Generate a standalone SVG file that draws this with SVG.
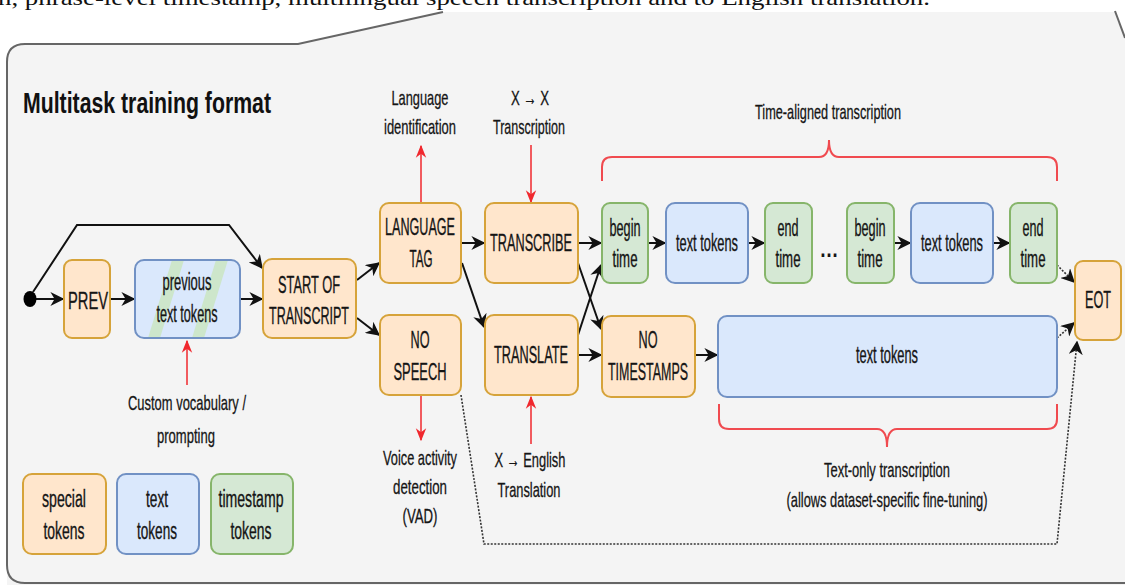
<svg xmlns="http://www.w3.org/2000/svg" width="1125" height="585" viewBox="0 0 1125 585">
<style>
.o{fill:#ffe6cc;stroke:#d6a33a;stroke-width:2}
.b{fill:#dae8fc;stroke:#7191c4;stroke-width:2}
.g{fill:#d5e8d4;stroke:#86b56a;stroke-width:2}
.t{font-family:"Liberation Sans",Arial,sans-serif;font-size:23px;fill:#151515;stroke:#151515;stroke-width:0.35;text-anchor:middle}
.a{font-family:"Liberation Sans",Arial,sans-serif;font-size:21px;fill:#151515;stroke:#151515;stroke-width:0.3;text-anchor:middle}
.c{fill:none;stroke:#111;stroke-width:2}
.d{fill:none;stroke:#333;stroke-width:1.6;stroke-dasharray:2 1.5}
.r{fill:none;stroke:#f0282e;stroke-width:1.5}
.br{fill:none;stroke:#f04a4f;stroke-width:2}
</style>
<defs>
<marker id="ak" viewBox="0 0 10 10" refX="9" refY="5" markerWidth="14" markerHeight="14" orient="auto" markerUnits="userSpaceOnUse">
<path d="M0,0 L10,5 L0,10 L3,5 Z" fill="#111"/>
</marker>
<marker id="rh" viewBox="0 0 10 10" refX="9" refY="5" markerWidth="13" markerHeight="13" orient="auto" markerUnits="userSpaceOnUse">
<path d="M0,1 L10,5 L0,9 L3,5 Z" fill="#f0282e"/>
</marker>
<clipPath id="pc"><rect x="135" y="260" width="105" height="78" rx="9"/></clipPath>
</defs>
<rect width="1125" height="585" fill="#ffffff"/>
<path d="M7,585 L7,62 Q7,44 25,44 L298,44 L443,12 L1115,12 L1125,38 L1125,585 Z" fill="#f4f4f4"/>
<path d="M1125,583 L25,583 Q7,583 7,565 L7,62 Q7,44 25,44 L298,44 L443,12" fill="none" stroke="#666" stroke-width="2"/>
<path d="M1115,11 L1125,38" fill="none" stroke="#666" stroke-width="2"/>
<text x="-2" y="5" font-family="Liberation Serif,'Times New Roman',serif" font-size="22" fill="#111" textLength="932" lengthAdjust="spacingAndGlyphs">n, phrase-level timestamp, multilingual speech transcription and to English translation.</text>
<text x="23" y="113" font-family="Liberation Sans,Arial,sans-serif" font-size="30" font-weight="bold" fill="#111" textLength="248" lengthAdjust="spacingAndGlyphs">Multitask training format</text>

<g id="connectors">
<line class="c" x1="36" y1="299" x2="63" y2="299" marker-end="url(#ak)"/>
<path class="c" d="M33,292 L77,225 L229,225 L262,268" marker-end="url(#ak)"/>
<line class="c" x1="110" y1="299" x2="134" y2="299" marker-end="url(#ak)"/>
<line class="c" x1="240" y1="299" x2="262" y2="299" marker-end="url(#ak)"/>
<line class="c" x1="357" y1="280" x2="379" y2="263" marker-end="url(#ak)"/>
<line class="c" x1="357" y1="318" x2="379" y2="335" marker-end="url(#ak)"/>
<line class="c" x1="461" y1="243" x2="484" y2="243" marker-end="url(#ak)"/>
<line class="c" x1="462" y1="263" x2="484" y2="327" marker-end="url(#ak)"/>
<line class="c" x1="578" y1="243" x2="601" y2="243" marker-end="url(#ak)"/>
<line class="c" x1="578" y1="263" x2="601" y2="329" marker-end="url(#ak)"/>
<line class="c" x1="578" y1="335" x2="601" y2="265" marker-end="url(#ak)"/>
<line class="c" x1="578" y1="355" x2="601" y2="355" marker-end="url(#ak)"/>
<line class="c" x1="648" y1="243" x2="665" y2="243" marker-end="url(#ak)"/>
<line class="c" x1="748" y1="243" x2="764" y2="243" marker-end="url(#ak)"/>
<line class="c" x1="894" y1="243" x2="910" y2="243" marker-end="url(#ak)"/>
<line class="c" x1="993" y1="243" x2="1009" y2="243" marker-end="url(#ak)"/>
<line class="c" x1="695" y1="355" x2="717" y2="355" marker-end="url(#ak)"/>
<path class="d" d="M1057,265 L1074,282" marker-end="url(#ak)"/>
<path class="d" d="M1057,338 L1074,323" marker-end="url(#ak)"/>
<path class="d" d="M461,395 L484,544 L1057,544 L1077,342" marker-end="url(#ak)"/>
<line class="r" x1="421" y1="203" x2="421" y2="146" marker-end="url(#rh)"/>
<line class="r" x1="531" y1="145" x2="531" y2="202" marker-end="url(#rh)"/>
<line class="r" x1="421" y1="396" x2="421" y2="440" marker-end="url(#rh)"/>
<line class="r" x1="531" y1="444" x2="531" y2="397" marker-end="url(#rh)"/>
<line class="r" x1="187" y1="385" x2="187" y2="341" marker-end="url(#rh)"/>
<path class="br" d="M602,181 L602,167 Q602,157 612,157 L819,157 Q829,157 829,140 Q829,157 839,157 L1047,157 Q1057,157 1057,167 L1057,181"/>
<path class="br" d="M719,404 L719,419 Q719,429 729,429 L877,429 Q887,429 887,447 Q887,429 897,429 L1047,429 Q1057,429 1057,419 L1057,404"/>
</g>

<g id="start"><ellipse cx="30" cy="299" rx="6.5" ry="8" fill="#000"/></g>
<g id="prev"><rect class="o" x="64" y="260" width="46" height="78" rx="8"/><text class="t" x="88" y="309" textLength="40" lengthAdjust="spacingAndGlyphs">PREV</text></g>
<g id="previous-text">
<rect x="135" y="260" width="105" height="78" rx="9" fill="#dae8fc"/>
<g clip-path="url(#pc)" fill="#cbe6c6" opacity="0.9">
<polygon points="148,338 160,338 184,260 172,260"/>
<polygon points="192,338 204,338 228,260 216,260"/>
</g>
<rect x="135" y="260" width="105" height="78" rx="9" fill="none" stroke="#7191c4" stroke-width="2"/>
<text class="t" x="187" y="290" textLength="49" lengthAdjust="spacingAndGlyphs">previous</text>
<text class="t" x="187" y="322" textLength="61" lengthAdjust="spacingAndGlyphs">text tokens</text>
</g>
<g id="sot"><rect class="o" x="263" y="259" width="93" height="79" rx="9"/><text class="t" x="309" y="293" textLength="62" lengthAdjust="spacingAndGlyphs">START OF</text><text class="t" x="309" y="324" textLength="80" lengthAdjust="spacingAndGlyphs">TRANSCRIPT</text></g>
<g id="lang"><rect class="o" x="380" y="203" width="81" height="80" rx="9"/><text class="t" x="420" y="235" textLength="70" lengthAdjust="spacingAndGlyphs">LANGUAGE</text><text class="t" x="421" y="267" textLength="23" lengthAdjust="spacingAndGlyphs">TAG</text></g>
<g id="nospeech"><rect class="o" x="380" y="315" width="81" height="80" rx="9"/><text class="t" x="420" y="348" textLength="19" lengthAdjust="spacingAndGlyphs">NO</text><text class="t" x="420" y="380" textLength="53" lengthAdjust="spacingAndGlyphs">SPEECH</text></g>
<g id="transcribe"><rect class="o" x="485" y="203" width="93" height="80" rx="9"/><text class="t" x="531" y="251" textLength="82" lengthAdjust="spacingAndGlyphs">TRANSCRIBE</text></g>
<g id="translate"><rect class="o" x="485" y="315" width="93" height="80" rx="9"/><text class="t" x="531" y="363" textLength="74" lengthAdjust="spacingAndGlyphs">TRANSLATE</text></g>
<g id="begin1"><rect class="g" x="602" y="203" width="46" height="80" rx="8"/><text class="t" x="625" y="236" textLength="31" lengthAdjust="spacingAndGlyphs">begin</text><text class="t" x="625" y="267" textLength="25" lengthAdjust="spacingAndGlyphs">time</text></g>
<g id="text1"><rect class="b" x="666" y="203" width="82" height="80" rx="9"/><text class="t" x="707" y="251" textLength="62" lengthAdjust="spacingAndGlyphs">text tokens</text></g>
<g id="end1"><rect class="g" x="765" y="203" width="47" height="80" rx="8"/><text class="t" x="788" y="236" textLength="21" lengthAdjust="spacingAndGlyphs">end</text><text class="t" x="788" y="267" textLength="25" lengthAdjust="spacingAndGlyphs">time</text></g>
<g id="dots"><text x="829" y="257" font-family="Liberation Sans,Arial,sans-serif" font-size="24" font-weight="bold" fill="#151515" text-anchor="middle" textLength="19" lengthAdjust="spacingAndGlyphs">…</text></g>
<g id="begin2"><rect class="g" x="847" y="203" width="47" height="80" rx="8"/><text class="t" x="870" y="236" textLength="31" lengthAdjust="spacingAndGlyphs">begin</text><text class="t" x="870" y="267" textLength="25" lengthAdjust="spacingAndGlyphs">time</text></g>
<g id="text2"><rect class="b" x="911" y="203" width="82" height="80" rx="9"/><text class="t" x="952" y="251" textLength="62" lengthAdjust="spacingAndGlyphs">text tokens</text></g>
<g id="end2"><rect class="g" x="1010" y="203" width="47" height="80" rx="8"/><text class="t" x="1033" y="236" textLength="21" lengthAdjust="spacingAndGlyphs">end</text><text class="t" x="1033" y="267" textLength="25" lengthAdjust="spacingAndGlyphs">time</text></g>
<g id="notimestamps"><rect class="o" x="602" y="316" width="93" height="81" rx="9"/><text class="t" x="648" y="348" textLength="19" lengthAdjust="spacingAndGlyphs">NO</text><text class="t" x="648" y="380" textLength="80" lengthAdjust="spacingAndGlyphs">TIMESTAMPS</text></g>
<g id="text-big"><rect class="b" x="718" y="316" width="339" height="81" rx="9"/><text class="t" x="887" y="363" textLength="62" lengthAdjust="spacingAndGlyphs">text tokens</text></g>
<g id="eot"><rect class="o" x="1075" y="261" width="46" height="79" rx="8"/><text class="t" x="1098" y="308" textLength="26" lengthAdjust="spacingAndGlyphs">EOT</text></g>

<g id="labels">
<text class="a" x="420" y="105" textLength="57" lengthAdjust="spacingAndGlyphs">Language</text>
<text class="a" x="420" y="134" textLength="72" lengthAdjust="spacingAndGlyphs">identification</text>
<text class="a" x="530" y="105" textLength="38" lengthAdjust="spacingAndGlyphs">X → X</text>
<text class="a" x="529" y="134" textLength="72" lengthAdjust="spacingAndGlyphs">Transcription</text>
<text class="a" x="828" y="119" textLength="146" lengthAdjust="spacingAndGlyphs">Time-aligned transcription</text>
<text class="a" x="187" y="410" textLength="118" lengthAdjust="spacingAndGlyphs">Custom vocabulary /</text>
<text class="a" x="186" y="443" textLength="58" lengthAdjust="spacingAndGlyphs">prompting</text>
<text class="a" x="420" y="465" textLength="74" lengthAdjust="spacingAndGlyphs">Voice activity</text>
<text class="a" x="420" y="494" textLength="54" lengthAdjust="spacingAndGlyphs">detection</text>
<text class="a" x="420" y="523" textLength="35" lengthAdjust="spacingAndGlyphs">(VAD)</text>
<text class="a" x="530" y="467" textLength="71" lengthAdjust="spacingAndGlyphs">X → English</text>
<text class="a" x="529" y="497" textLength="63" lengthAdjust="spacingAndGlyphs">Translation</text>
<text class="a" x="887" y="477" textLength="126" lengthAdjust="spacingAndGlyphs">Text-only transcription</text>
<text class="a" x="887" y="507" textLength="201" lengthAdjust="spacingAndGlyphs">(allows dataset-specific fine-tuning)</text>
</g>

<g id="legend-special"><rect class="o" x="23" y="474" width="83" height="80" rx="9"/><text class="t" x="64" y="507" textLength="44" lengthAdjust="spacingAndGlyphs">special</text><text class="t" x="64" y="539" textLength="41" lengthAdjust="spacingAndGlyphs">tokens</text></g>
<g id="legend-text"><rect class="b" x="117" y="474" width="82" height="80" rx="9"/><text class="t" x="157" y="507" textLength="22" lengthAdjust="spacingAndGlyphs">text</text><text class="t" x="157" y="539" textLength="40" lengthAdjust="spacingAndGlyphs">tokens</text></g>
<g id="legend-timestamp"><rect class="g" x="211" y="474" width="82" height="80" rx="9"/><text class="t" x="251" y="507" textLength="65" lengthAdjust="spacingAndGlyphs">timestamp</text><text class="t" x="251" y="539" textLength="41" lengthAdjust="spacingAndGlyphs">tokens</text></g>
</svg>
